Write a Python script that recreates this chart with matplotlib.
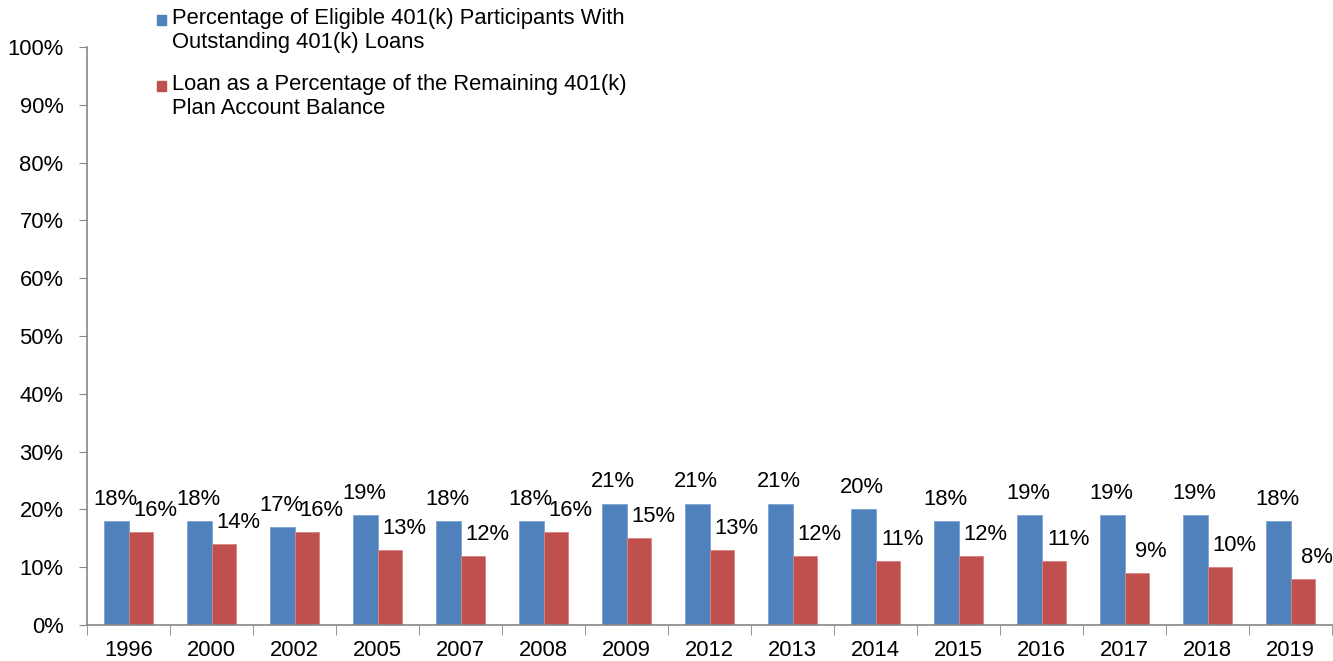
import numpy as np
import matplotlib.pyplot as plt
from matplotlib.patches import Rectangle

plt.rcParams['font.family'] = ['Liberation Sans', 'DejaVu Sans']

# Datos
years = ['1996', '2000', '2002', '2005', '2007', '2008', '2009', '2012',
         '2013', '2014', '2015', '2016', '2017', '2018', '2019']
participants_with_loans = [18, 18, 17, 19, 18, 18, 21, 21, 21, 20, 18, 19, 19, 19, 18]
loan_pct_balance = [16, 14, 16, 13, 12, 16, 15, 13, 12, 11, 12, 11, 9, 10, 8]
legend_labels = ['Percentage of Eligible 401(k) Participants With\nOutstanding 401(k) Loans',
                 'Loan as a Percentage of the Remaining 401(k)\nPlan Account Balance']

blue = '#4F81BD'
red = '#C0504D'
axis_gray = '#868686'
fs = 15.8

fig = plt.figure(figsize=(13.33, 6.61), dpi=100)
ax = fig.add_axes([0.0653, 0.0545, 0.934, 0.8744])

x = np.arange(len(years))
w = 0.29
ax.bar(x - w / 2, participants_with_loans, w, color=blue, edgecolor='#7FA3D3', linewidth=0.6)
ax.bar(x + w / 2, loan_pct_balance, w, color=red, edgecolor='#D98482', linewidth=0.6)

# Etiquetas de valores
for xi, v in zip(x, participants_with_loans):
    ax.annotate(f'{v}%', (xi - w / 2, v), xytext=(-1, 8), textcoords='offset points',
                ha='center', va='bottom', fontsize=fs)
for xi, v in zip(x, loan_pct_balance):
    ax.annotate(f'{v}%', (xi + w / 2, v), xytext=(10.5, 8), textcoords='offset points',
                ha='center', va='bottom', fontsize=fs)

ax.set_xlim(-0.5, len(years) - 0.5)
ax.set_ylim(0, 100)
ax.set_yticks(np.arange(0, 101, 10))
ax.set_yticklabels([f'{t}%' for t in range(0, 101, 10)])
ax.set_xticks(x)
ax.set_xticklabels(years)
ax.set_xticks(np.arange(-0.5, len(years)), minor=True)

ax.tick_params(axis='y', labelsize=fs, length=6, color=axis_gray, pad=11)
ax.tick_params(axis='x', which='major', labelsize=fs, length=0, pad=11)
ax.tick_params(axis='x', which='minor', length=7, color=axis_gray)

for s in ['top', 'right']:
    ax.spines[s].set_visible(False)
for s in ['left', 'bottom']:
    ax.spines[s].set_color(axis_gray)
    ax.spines[s].set_linewidth(1.2)

# Leyenda manual
W, H = fig.get_size_inches() * fig.dpi
legend_rows = [(20, blue, legend_labels[0]), (86, red, legend_labels[1])]
for ypix, col, lab in legend_rows:
    fig.patches.append(Rectangle((157 / W, 1 - (ypix + 5) / H), 9 / W, 10 / H,
                                 transform=fig.transFigure, color=col))
    fig.text(172 / W, 1 - (ypix - 12) / H, lab, fontsize=fs, va='top', ha='left',
             linespacing=1.18)

fig.savefig('out.png', dpi=100)
